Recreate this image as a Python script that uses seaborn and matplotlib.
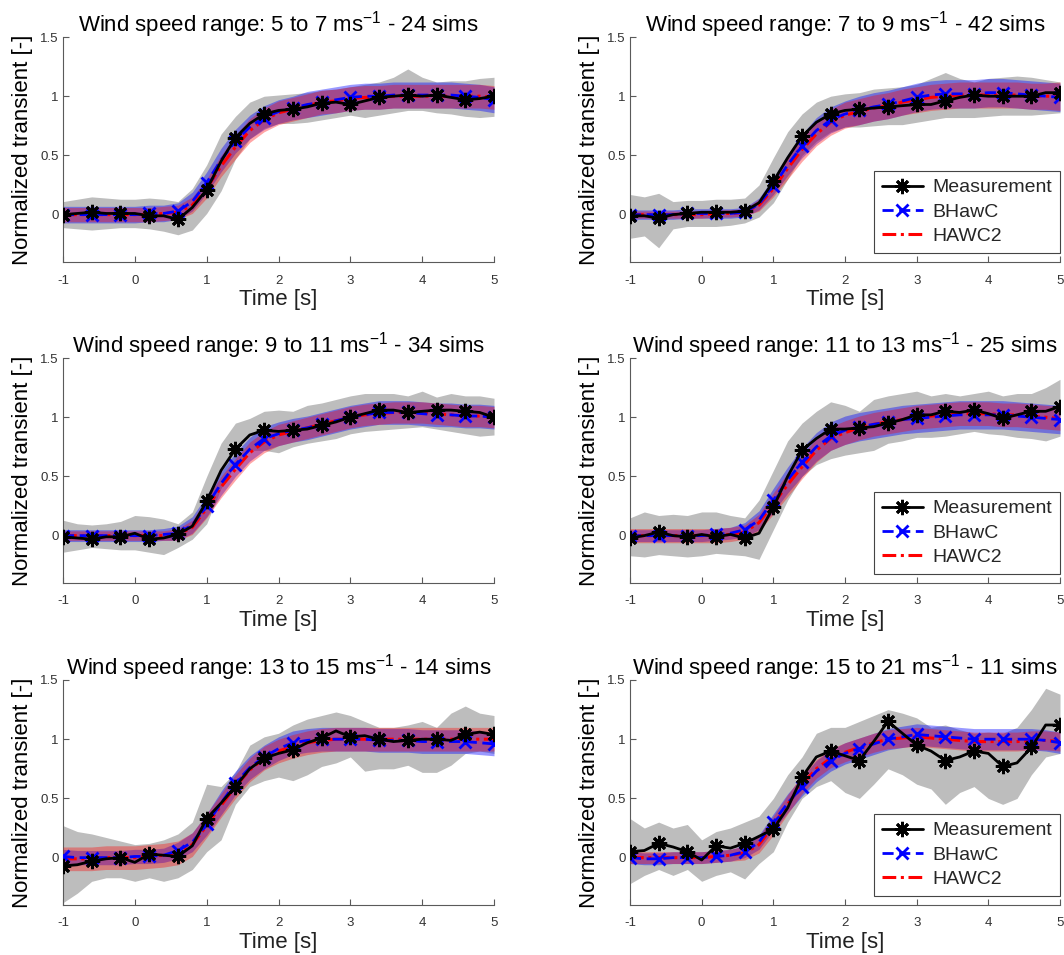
import numpy as np
import pandas as pd
import matplotlib
matplotlib.use("Agg")
import matplotlib.pyplot as plt
import seaborn as sns
from matplotlib.lines import Line2D

sns.set_theme(style="white")
plt.rcParams['font.family'] = ['Liberation Sans', 'DejaVu Sans']
plt.rcParams['mathtext.fontset'] = 'custom'
plt.rcParams['mathtext.rm'] = 'Liberation Sans'
plt.rcParams['mathtext.it'] = 'Liberation Sans'
plt.rcParams['axes.unicode_minus'] = False

# time grid [s]
time = [-1.0, -0.8, -0.6, -0.4, -0.2, 0.0, 0.2, 0.4, 0.6, 0.8, 1.0, 1.2, 1.4, 1.6, 1.8, 2.0,
        2.2, 2.4, 2.6, 2.8, 3.0, 3.2, 3.4, 3.6, 3.8, 4.0, 4.2, 4.4, 4.6, 4.8, 5.0]

titles = [r"Wind speed range: 5 to 7 ms$^{\mathregular{-1}}$ - 24 sims",
          r"Wind speed range: 7 to 9 ms$^{\mathregular{-1}}$ - 42 sims",
          r"Wind speed range: 9 to 11 ms$^{\mathregular{-1}}$ - 34 sims",
          r"Wind speed range: 11 to 13 ms$^{\mathregular{-1}}$ - 25 sims",
          r"Wind speed range: 13 to 15 ms$^{\mathregular{-1}}$ - 14 sims",
          r"Wind speed range: 15 to 21 ms$^{\mathregular{-1}}$ - 11 sims"]

# ---- panel 1 : 5-7 m/s
meas_1 = [0.00,0.01,0.02,0.01,0.01,0.01,-0.01,-0.01,-0.04,0.06,0.21,0.45,0.65,0.77,0.85,0.88,0.89,0.91,0.94,0.95,0.93,0.96,0.99,1.00,1.01,1.00,1.01,0.99,0.97,0.98,1.00]
mhi_1 = [0.11,0.13,0.15,0.14,0.13,0.13,0.14,0.13,0.11,0.22,0.42,0.68,0.83,0.95,1.00,1.01,1.02,1.03,1.05,1.06,1.08,1.10,1.12,1.16,1.23,1.16,1.12,1.13,1.13,1.15,1.16]
mlo_1 = [-0.11,-0.12,-0.13,-0.12,-0.11,-0.11,-0.12,-0.14,-0.17,-0.13,0.01,0.20,0.47,0.64,0.73,0.77,0.77,0.78,0.80,0.82,0.84,0.82,0.84,0.86,0.88,0.88,0.86,0.85,0.83,0.82,0.83]
bhawc_1 = [0.00,0.00,0.00,0.00,0.00,0.00,0.01,0.01,0.03,0.11,0.27,0.46,0.62,0.74,0.82,0.87,0.90,0.93,0.95,0.97,0.99,1.00,1.00,1.01,1.01,1.01,1.01,1.01,1.00,0.99,0.97]
bsd_1 = [0.07,0.07,0.07,0.07,0.07,0.07,0.07,0.07,0.07,0.08,0.09,0.10,0.10,0.10,0.10,0.10,0.10,0.11,0.11,0.11,0.11,0.11,0.11,0.11,0.11,0.11,0.11,0.11,0.11,0.11,0.11]
hawc2_1 = [0.00,0.00,0.00,0.00,0.00,0.00,0.00,0.01,0.02,0.08,0.22,0.41,0.57,0.71,0.80,0.86,0.89,0.92,0.95,0.96,0.98,0.99,0.99,1.00,1.00,1.00,1.00,1.00,1.00,1.00,0.99]
hsd_1 = [0.06,0.06,0.06,0.06,0.06,0.06,0.06,0.06,0.06,0.07,0.08,0.09,0.10,0.10,0.10,0.10,0.10,0.10,0.10,0.10,0.10,0.10,0.10,0.10,0.10,0.10,0.10,0.10,0.10,0.10,0.10]

# ---- panel 2 : 7-9 m/s
meas_2 = [-0.01,-0.01,-0.03,0.00,0.01,0.02,0.02,0.02,0.03,0.10,0.28,0.48,0.66,0.78,0.85,0.88,0.89,0.90,0.91,0.92,0.93,0.93,0.96,0.99,1.01,1.00,1.00,1.00,1.00,1.03,1.03]
mhi_2 = [0.17,0.15,0.18,0.11,0.12,0.12,0.13,0.13,0.14,0.25,0.48,0.70,0.85,0.95,1.00,1.02,1.03,1.06,1.07,1.08,1.10,1.15,1.20,1.15,1.12,1.15,1.16,1.17,1.16,1.14,1.12]
mlo_2 = [-0.20,-0.18,-0.28,-0.12,-0.10,-0.10,-0.10,-0.09,-0.07,-0.02,0.10,0.30,0.50,0.62,0.70,0.74,0.74,0.75,0.76,0.76,0.78,0.80,0.82,0.82,0.82,0.83,0.84,0.84,0.84,0.85,0.86]
bhawc_2 = [0.00,0.00,0.00,0.00,0.01,0.01,0.01,0.01,0.02,0.09,0.24,0.42,0.58,0.71,0.80,0.85,0.88,0.91,0.93,0.96,0.99,1.01,1.02,1.02,1.02,1.03,1.03,1.02,1.01,1.00,0.99]
bsd_2 = [0.04,0.04,0.04,0.04,0.04,0.04,0.04,0.04,0.04,0.05,0.07,0.09,0.10,0.11,0.11,0.11,0.12,0.12,0.12,0.12,0.12,0.12,0.12,0.12,0.12,0.12,0.12,0.12,0.12,0.12,0.12]
hawc2_2 = [0.00,0.00,0.00,0.00,0.00,0.00,0.01,0.01,0.02,0.08,0.22,0.39,0.55,0.68,0.78,0.84,0.87,0.90,0.92,0.95,0.97,0.99,1.00,1.01,1.01,1.01,1.01,1.01,1.00,1.00,1.00]
hsd_2 = [0.03,0.03,0.03,0.03,0.03,0.03,0.03,0.03,0.03,0.05,0.07,0.09,0.10,0.10,0.11,0.11,0.11,0.11,0.11,0.11,0.11,0.11,0.11,0.11,0.11,0.11,0.11,0.11,0.11,0.11,0.12]

# ---- panel 3 : 9-11 m/s
meas_3 = [-0.01,-0.02,-0.03,-0.01,-0.01,0.02,-0.03,-0.02,0.01,0.08,0.29,0.55,0.73,0.85,0.89,0.88,0.89,0.90,0.93,0.96,1.00,1.03,1.06,1.06,1.04,1.05,1.06,1.06,1.05,1.04,1.00]
mhi_3 = [0.13,0.10,0.09,0.10,0.12,0.17,0.16,0.14,0.10,0.20,0.50,0.78,0.95,0.99,1.05,1.06,1.05,1.10,1.12,1.15,1.18,1.20,1.20,1.20,1.18,1.22,1.17,1.20,1.18,1.18,1.16]
mlo_3 = [-0.14,-0.12,-0.10,-0.11,-0.12,-0.12,-0.14,-0.16,-0.10,-0.03,0.10,0.40,0.60,0.72,0.72,0.70,0.75,0.78,0.80,0.82,0.86,0.88,0.89,0.90,0.91,0.92,0.90,0.88,0.86,0.84,0.85]
bhawc_3 = [0.00,0.00,0.00,0.00,0.00,0.00,0.00,0.01,0.02,0.09,0.25,0.44,0.60,0.73,0.82,0.86,0.89,0.91,0.94,0.97,1.00,1.02,1.04,1.04,1.04,1.03,1.02,1.02,1.01,1.01,1.00]
bsd_3 = [0.05,0.05,0.05,0.05,0.05,0.05,0.05,0.05,0.06,0.07,0.09,0.10,0.10,0.10,0.10,0.10,0.10,0.10,0.10,0.10,0.10,0.10,0.10,0.10,0.10,0.10,0.10,0.10,0.10,0.10,0.10]
hawc2_3 = [0.00,0.00,0.00,0.00,0.00,0.00,0.00,0.00,0.01,0.07,0.23,0.41,0.56,0.70,0.79,0.85,0.88,0.91,0.94,0.97,1.00,1.02,1.03,1.04,1.04,1.04,1.03,1.02,1.01,1.01,1.00]
hsd_3 = [0.04,0.04,0.04,0.04,0.04,0.04,0.04,0.04,0.05,0.06,0.08,0.09,0.09,0.09,0.09,0.09,0.09,0.09,0.09,0.09,0.09,0.09,0.09,0.09,0.09,0.09,0.09,0.09,0.09,0.09,0.09]

# ---- panel 4 : 11-13 m/s
meas_4 = [-0.02,0.00,0.03,0.00,-0.01,0.01,-0.01,0.01,-0.02,0.02,0.24,0.50,0.72,0.82,0.90,0.90,0.91,0.92,0.95,0.98,1.02,1.02,1.05,1.04,1.06,1.03,0.99,1.02,1.05,1.05,1.09]
mhi_4 = [0.15,0.20,0.17,0.18,0.17,0.20,0.20,0.17,0.15,0.30,0.55,0.80,0.95,1.05,1.13,1.10,1.05,1.15,1.18,1.20,1.22,1.18,1.20,1.18,1.20,1.22,1.18,1.20,1.20,1.25,1.32]
mlo_4 = [-0.17,-0.18,-0.16,-0.17,-0.18,-0.17,-0.15,-0.16,-0.17,-0.20,0.05,0.30,0.50,0.60,0.65,0.68,0.70,0.72,0.78,0.80,0.83,0.83,0.84,0.86,0.88,0.86,0.85,0.83,0.82,0.80,0.84]
bhawc_4 = [0.00,0.00,0.00,0.00,0.00,0.00,0.01,0.02,0.05,0.13,0.30,0.47,0.62,0.75,0.84,0.89,0.92,0.94,0.96,0.98,0.99,1.00,1.01,1.02,1.02,1.02,1.02,1.01,1.00,0.99,0.98]
bsd_4 = [0.05,0.05,0.05,0.05,0.05,0.05,0.05,0.05,0.06,0.08,0.10,0.11,0.12,0.12,0.12,0.12,0.12,0.12,0.12,0.12,0.12,0.12,0.12,0.12,0.12,0.12,0.12,0.12,0.12,0.12,0.12]
hawc2_4 = [0.00,0.00,0.00,0.00,0.00,0.00,0.00,0.01,0.03,0.11,0.27,0.43,0.58,0.72,0.82,0.87,0.91,0.94,0.96,0.98,1.00,1.01,1.02,1.03,1.03,1.03,1.02,1.02,1.01,1.00,0.99]
hsd_4 = [0.06,0.06,0.06,0.06,0.06,0.06,0.06,0.06,0.06,0.07,0.09,0.10,0.10,0.10,0.10,0.10,0.10,0.10,0.10,0.10,0.10,0.10,0.10,0.10,0.10,0.10,0.10,0.10,0.10,0.10,0.10]

# ---- panel 5 : 13-15 m/s
meas_5 = [-0.07,-0.06,-0.03,-0.01,0.00,-0.04,0.03,0.02,0.01,0.10,0.33,0.46,0.60,0.75,0.84,0.88,0.91,0.97,1.01,1.07,1.02,1.03,1.00,0.98,0.99,1.00,1.00,0.99,1.04,1.06,1.04]
mhi_5 = [0.27,0.22,0.20,0.17,0.14,0.11,0.12,0.15,0.20,0.30,0.62,0.60,0.72,0.95,1.02,1.05,1.12,1.17,1.20,1.23,1.20,1.15,1.10,1.10,1.12,1.15,1.10,1.22,1.28,1.22,1.20]
mlo_5 = [-0.38,-0.30,-0.20,-0.17,-0.17,-0.20,-0.17,-0.20,-0.17,-0.10,0.05,0.15,0.45,0.60,0.65,0.68,0.65,0.70,0.77,0.80,0.85,0.73,0.75,0.75,0.78,0.72,0.72,0.78,0.88,0.90,0.88]
bhawc_5 = [0.01,0.00,0.00,0.00,0.00,0.01,0.01,0.02,0.06,0.13,0.28,0.46,0.63,0.76,0.85,0.92,0.97,0.99,1.00,1.00,1.00,1.00,0.99,0.99,0.99,0.98,0.98,0.98,0.98,0.97,0.96]
bsd_5 = [0.06,0.06,0.06,0.06,0.06,0.06,0.06,0.06,0.07,0.08,0.09,0.10,0.10,0.10,0.10,0.10,0.10,0.10,0.10,0.10,0.10,0.10,0.10,0.10,0.10,0.10,0.10,0.10,0.10,0.10,0.10]
hawc2_5 = [-0.01,-0.01,-0.01,0.00,0.00,0.00,0.01,0.02,0.04,0.11,0.27,0.44,0.60,0.74,0.84,0.90,0.94,0.97,0.99,1.00,1.00,1.00,1.00,1.00,1.00,1.00,1.00,1.00,1.00,1.00,1.00]
hsd_5 = [0.10,0.10,0.10,0.10,0.10,0.10,0.10,0.10,0.10,0.10,0.10,0.10,0.10,0.10,0.10,0.10,0.10,0.10,0.10,0.10,0.10,0.10,0.10,0.10,0.10,0.10,0.10,0.10,0.10,0.10,0.10]

# ---- panel 6 : 15-21 m/s
meas_6 = [0.05,0.06,0.12,0.09,0.05,-0.02,0.10,0.08,0.12,0.18,0.24,0.42,0.68,0.85,0.90,0.86,0.82,0.98,1.15,1.05,0.95,0.90,0.82,0.85,0.90,0.88,0.77,0.80,0.93,1.12,1.12]
mhi_6 = [0.33,0.25,0.30,0.25,0.28,0.15,0.22,0.25,0.30,0.35,0.50,0.70,0.85,1.05,1.10,1.10,1.15,1.20,1.25,1.22,1.18,1.10,1.12,1.08,1.05,1.06,1.05,1.10,1.25,1.43,1.38]
mlo_6 = [-0.22,-0.15,-0.10,-0.15,-0.10,-0.20,-0.15,-0.12,-0.18,-0.05,0.05,0.30,0.50,0.60,0.65,0.55,0.50,0.62,0.75,0.70,0.62,0.58,0.45,0.55,0.60,0.50,0.45,0.50,0.70,0.85,0.88]
bhawc_6 = [0.00,-0.01,-0.01,0.00,0.00,0.00,0.01,0.02,0.05,0.13,0.30,0.46,0.60,0.73,0.82,0.88,0.92,0.96,1.00,1.02,1.04,1.03,1.02,1.01,1.00,1.00,1.00,1.00,1.00,0.99,0.97]
bsd_6 = [0.05,0.05,0.05,0.05,0.05,0.05,0.05,0.05,0.05,0.06,0.07,0.08,0.08,0.09,0.09,0.09,0.09,0.09,0.09,0.09,0.09,0.09,0.09,0.09,0.09,0.09,0.09,0.09,0.09,0.09,0.09]
hawc2_6 = [0.00,0.00,0.00,0.00,0.00,0.00,0.01,0.02,0.04,0.11,0.27,0.45,0.62,0.75,0.84,0.89,0.93,0.97,1.00,1.01,1.02,1.01,1.00,0.99,0.98,0.98,0.98,0.98,0.99,0.99,0.98]
hsd_6 = [0.05,0.05,0.05,0.05,0.05,0.05,0.05,0.05,0.06,0.07,0.08,0.08,0.08,0.08,0.08,0.08,0.08,0.08,0.08,0.08,0.08,0.08,0.08,0.08,0.08,0.08,0.08,0.08,0.08,0.08,0.08]

panels = [
    (meas_1, mlo_1, mhi_1, bhawc_1, bsd_1, hawc2_1, hsd_1),
    (meas_2, mlo_2, mhi_2, bhawc_2, bsd_2, hawc2_2, hsd_2),
    (meas_3, mlo_3, mhi_3, bhawc_3, bsd_3, hawc2_3, hsd_3),
    (meas_4, mlo_4, mhi_4, bhawc_4, bsd_4, hawc2_4, hsd_4),
    (meas_5, mlo_5, mhi_5, bhawc_5, bsd_5, hawc2_5, hsd_5),
    (meas_6, mlo_6, mhi_6, bhawc_6, bsd_6, hawc2_6, hsd_6),
]

xticks = [-1, 0, 1, 2, 3, 4, 5]
yticks = [0, 0.5, 1, 1.5]
ytick_labels = ["0", "0.5", "1", "1.5"]
legend_labels = ["Measurement", "BHawC", "HAWC2"]

W, H = 1064, 955
fig = plt.figure(figsize=(W / 100, H / 100), dpi=100)

col_left = [63, 630]
col_width = [431, 430]
row_top = [37, 358, 680]
row_h = 225

AST = (8, 2, 0)
axis_col = "#5a5a5a"
RED_DASH = (0, (4.5, 1.5, 1, 1.5))
BLUE_DASH = (0, (4, 2))

for i, (meas, mlo, mhi, bh, bsd, hw, hsd) in enumerate(panels):
    r, c = divmod(i, 2)
    ax = fig.add_axes([col_left[c] / W, 1 - (row_top[r] + row_h) / H, col_width[c] / W, row_h / H])
    t = np.array(time)
    ax.fill_between(t, mlo, mhi, color="#bdbdbd", lw=0, zorder=1)
    bh_a, bsd_a = np.array(bh), np.array(bsd)
    hw_a, hsd_a = np.array(hw), np.array(hsd)
    ax.fill_between(t, bh_a - bsd_a, bh_a + bsd_a, color="blue", alpha=0.4, lw=0, zorder=2)
    ax.fill_between(t, hw_a - hsd_a, hw_a + hsd_a, color="red", alpha=0.35, lw=0, zorder=3)

    sns.lineplot(x=t, y=hw, ax=ax, color="red", lw=2.2, linestyle=RED_DASH,
                 zorder=4, estimator=None, sort=False)
    sns.lineplot(x=t, y=bh, ax=ax, color="blue", lw=2.0, linestyle=BLUE_DASH, marker="x",
                 markersize=8, markeredgewidth=2, markeredgecolor="blue", markevery=2,
                 zorder=5, estimator=None, sort=False)
    sns.lineplot(x=t, y=meas, ax=ax, color="black", lw=2.0, marker=AST, markersize=11,
                 markeredgewidth=2, markeredgecolor="black", markevery=2, zorder=6,
                 estimator=None, sort=False)

    ax.set_xlim(-1, 5)
    ax.set_ylim(-0.4, 1.5)
    ax.set_xticks(xticks)
    ax.set_xticklabels([str(v) for v in xticks])
    ax.set_yticks(yticks)
    ax.set_yticklabels(ytick_labels)
    ax.tick_params(direction="in", length=4, width=0.8, color=axis_col, labelcolor="#333333",
                   labelsize=9.5, bottom=True, left=True)
    ax.tick_params(axis="x", pad=9)
    ax.tick_params(axis="y", pad=3)
    for s in ["top", "right"]:
        ax.spines[s].set_visible(False)
    for s in ["left", "bottom"]:
        ax.spines[s].set_color(axis_col)
        ax.spines[s].set_linewidth(0.8)
    ax.set_title(titles[i], fontsize=16, pad=4, color="black")
    ax.set_xlabel("Time [s]", fontsize=16, color="#222222", labelpad=2)
    ax.set_ylabel("Normalized transient [-]", fontsize=16, color="black", labelpad=5)
    ax.grid(False)

    if c == 1:
        handles = [
            Line2D([], [], color="black", lw=2.0, marker=AST, markersize=11, markeredgewidth=2),
            Line2D([], [], color="blue", lw=2.0, linestyle=BLUE_DASH, marker="x", markersize=8,
                   markeredgewidth=2),
            Line2D([], [], color="red", lw=2.2, linestyle=RED_DASH),
        ]
        leg = ax.legend(handles, legend_labels, loc="lower right", bbox_to_anchor=(1.0, 0.04),
                        borderaxespad=0, fontsize=14, frameon=True, fancybox=False,
                        edgecolor="#444444", framealpha=1, handlelength=2.1, handletextpad=0.5,
                        labelspacing=0.35, borderpad=0.4)
        leg.get_frame().set_linewidth(0.8)

fig.savefig("out.png", dpi=100)
